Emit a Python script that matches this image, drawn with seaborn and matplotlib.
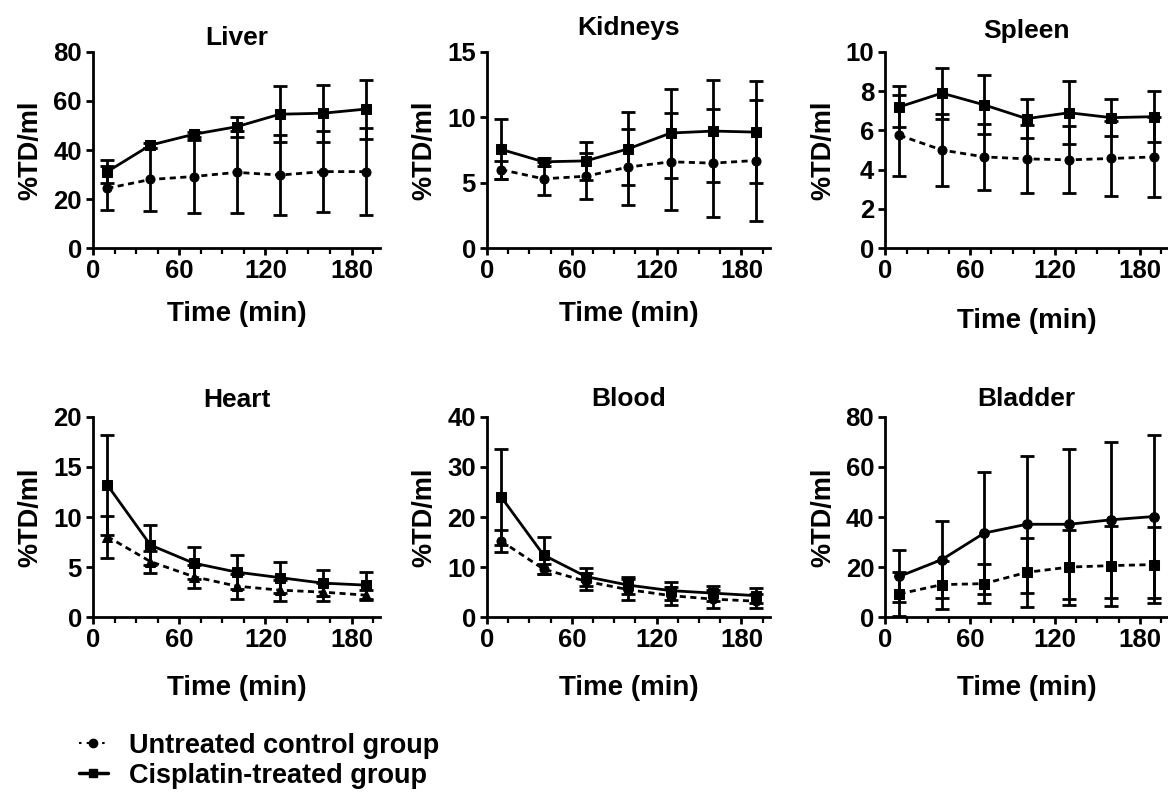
import matplotlib
matplotlib.use("Agg")
import matplotlib.pyplot as plt
from matplotlib.ticker import MultipleLocator
from matplotlib.lines import Line2D
import seaborn as sns
import pandas as pd

# sampling times (min)
time_min = [10, 40, 70, 100, 130, 160, 190]

organs = ['Liver', 'Kidneys', 'Spleen', 'Heart', 'Blood', 'Bladder']
y_max = [80, 15, 10, 20, 40, 80]
y_step = [20, 5, 2, 5, 10, 20]

# %TD/ml, mean and SD
liver_control = [24.4, 28.0, 29.2, 30.9, 29.8, 31.2, 31.2]
liver_control_sd = [9.0, 13.0, 15.0, 16.7, 16.2, 16.6, 17.6]
liver_cisplatin = [31.2, 42.0, 46.4, 49.5, 54.6, 55.0, 56.7]
liver_cisplatin_sd = [4.8, 1.0, 1.0, 4.0, 11.4, 11.7, 12.0]

kidneys_control = [6.0, 5.3, 5.5, 6.2, 6.6, 6.5, 6.7]
kidneys_control_sd = [0.7, 1.25, 1.75, 2.9, 3.7, 4.1, 4.6]
kidneys_cisplatin = [7.55, 6.6, 6.67, 7.6, 8.8, 8.95, 8.87]
kidneys_cisplatin_sd = [2.3, 0.3, 1.45, 2.8, 3.4, 3.9, 3.9]

spleen_control = [5.75, 5.0, 4.65, 4.55, 4.5, 4.57, 4.65]
spleen_control_sd = [2.07, 1.85, 1.67, 1.73, 1.7, 1.93, 2.03]
spleen_cisplatin = [7.2, 7.9, 7.3, 6.6, 6.9, 6.65, 6.7]
spleen_cisplatin_sd = [1.05, 1.3, 1.5, 1.0, 1.6, 0.95, 1.3]

heart_control = [8.05, 5.55, 4.05, 3.1, 2.7, 2.5, 2.2]
heart_control_sd = [2.1, 1.1, 1.15, 1.25, 1.05, 0.9, 0.5]
heart_cisplatin = [13.2, 7.2, 5.4, 4.5, 3.95, 3.4, 3.2]
heart_cisplatin_sd = [5.0, 2.0, 1.6, 1.7, 1.55, 1.3, 1.35]

blood_control = [15.2, 9.6, 7.15, 5.5, 4.3, 3.6, 3.2]
blood_control_sd = [2.2, 1.0, 1.65, 2.1, 1.8, 1.75, 1.35]
blood_cisplatin = [24.0, 12.4, 8.1, 6.4, 5.3, 4.8, 4.3]
blood_cisplatin_sd = [9.6, 3.7, 1.8, 1.7, 1.8, 1.5, 1.5]

bladder_control = [9.3, 13.0, 13.4, 17.9, 20.0, 20.6, 21.0]
bladder_control_sd = [8.9, 9.6, 7.8, 13.9, 15.0, 16.0, 15.2]
bladder_cisplatin = [16.3, 23.0, 33.6, 37.1, 37.1, 38.9, 40.2]
bladder_cisplatin_sd = [10.4, 15.5, 24.5, 27.4, 29.9, 31.1, 32.5]

rows = []
for organ, c, csd, t, tsd in [
    ('Liver', liver_control, liver_control_sd, liver_cisplatin, liver_cisplatin_sd),
    ('Kidneys', kidneys_control, kidneys_control_sd, kidneys_cisplatin, kidneys_cisplatin_sd),
    ('Spleen', spleen_control, spleen_control_sd, spleen_cisplatin, spleen_cisplatin_sd),
    ('Heart', heart_control, heart_control_sd, heart_cisplatin, heart_cisplatin_sd),
    ('Blood', blood_control, blood_control_sd, blood_cisplatin, blood_cisplatin_sd),
    ('Bladder', bladder_control, bladder_control_sd, bladder_cisplatin, bladder_cisplatin_sd),
]:
    for i, tm in enumerate(time_min):
        rows.append({'organ': organ, 'group': 'control', 'time': tm, 'mean': c[i], 'sd': csd[i]})
        rows.append({'organ': organ, 'group': 'cisplatin', 'time': tm, 'mean': t[i], 'sd': tsd[i]})
df = pd.DataFrame(rows)

sns.set_style("ticks")
plt.rcParams['font.family'] = ['Liberation Sans', 'DejaVu Sans']
plt.rcParams['font.weight'] = 'bold'
plt.rcParams['axes.titleweight'] = 'bold'
plt.rcParams['axes.labelweight'] = 'bold'
plt.rcParams['axes.linewidth'] = 2
plt.rcParams['xtick.major.width'] = 2
plt.rcParams['ytick.major.width'] = 2
plt.rcParams['xtick.minor.width'] = 1.6
for key in ['text.color', 'axes.labelcolor', 'axes.edgecolor', 'xtick.color', 'ytick.color']:
    plt.rcParams[key] = 'black'

fig = plt.figure(figsize=(11.68, 8.11), dpi=100)

lefts = [0.0796, 0.417, 0.758]
widths = [0.246, 0.242, 0.242]
bottoms = [0.694, 0.239]
heights = [0.242, 0.247]
xlabel_pad = [13, 13, 18, 16, 16, 16]
title_pad = [5, 12, 10, 7, 8, 8]

dash = (0, (2.2, 1.6))

for k, organ in enumerate(organs):
    r, c = divmod(k, 3)
    ax = fig.add_axes([lefts[c], bottoms[r], widths[c], heights[r]])
    sub = df[df['organ'] == organ]
    ctrl = sub[sub['group'] == 'control']
    cis = sub[sub['group'] == 'cisplatin']

    ctrl_marker = 'o'
    cis_marker = 's'
    if organ == 'Heart':
        ctrl_marker = '^'
    if organ == 'Bladder':
        ctrl_marker, cis_marker = 's', 'o'

    for d, ls, mk, ms in [(ctrl, dash, ctrl_marker, 6.5), (cis, '-', cis_marker, 7)]:
        ax.errorbar(d['time'], d['mean'], yerr=d['sd'], fmt='none', ecolor='black',
                    elinewidth=2, capsize=5, capthick=2, zorder=2)
        sns.lineplot(x=d['time'], y=d['mean'], ax=ax, color='black', linestyle=ls,
                     linewidth=2, marker=mk, markersize=ms, markeredgecolor='black',
                     markerfacecolor='black', zorder=3)

    ax.set_xlim(0, 200)
    ax.set_ylim(0, y_max[k])
    ax.xaxis.set_major_locator(MultipleLocator(60))
    ax.xaxis.set_minor_locator(MultipleLocator(15))
    ax.yaxis.set_major_locator(MultipleLocator(y_step[k]))
    ax.tick_params(axis='both', which='major', labelsize=18.5, length=5, pad=3)
    ax.tick_params(axis='x', which='minor', length=4)
    sns.despine(ax=ax)
    ax.set_title(organ, fontsize=19, pad=title_pad[k])
    ax.set_xlabel('Time (min)', fontsize=20, labelpad=xlabel_pad[k])
    ax.set_ylabel('%TD/ml', fontsize=19.5, labelpad=7)

handles = [
    Line2D([0], [0], color='black', linestyle=(0, (1.2, 2.5)), linewidth=1.5,
           marker='o', markersize=6),
    Line2D([0], [0], color='black', linestyle='-', linewidth=2.5,
           marker='s', markersize=6),
]
fig.legend(handles, ['Untreated control group', 'Cisplatin-treated group'],
           loc='center left', bbox_to_anchor=(0.058, 0.062), frameon=False,
           fontsize=19.5, handlelength=1.1, handletextpad=0.75, labelspacing=0.15,
           borderaxespad=0)

fig.savefig('out.png', dpi=100)
